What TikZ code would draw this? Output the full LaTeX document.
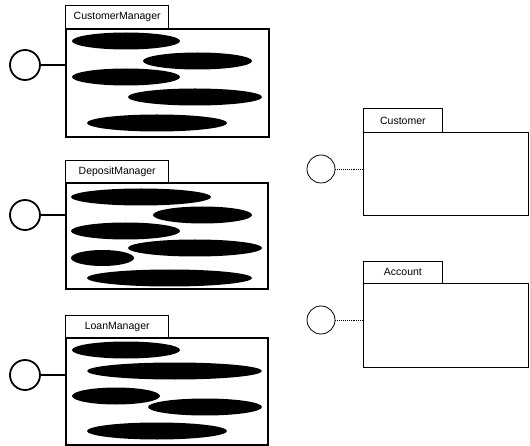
\documentclass[tikz,border=0pt]{standalone}
\usepackage{fontspec}
\setmainfont{Liberation Sans}
\usetikzlibrary{shapes.geometric}
\begin{document}
\begin{tikzpicture}[x=1pt,y=-1pt,
  pkgbody/.style={draw, line width=#1, minimum width=0pt, minimum height=0pt, anchor=north west, inner sep=0pt},
  pkgtab/.style={draw, line width=#1, anchor=north west, inner sep=0pt,
    font=\fontsize{10.5}{12}\selectfont},
  usecase/.style={ellipse, fill=black, draw=none, inner sep=0pt, minimum height=17pt},
  ifacebold/.style={circle, draw, line width=1.8pt, minimum size=30pt, inner sep=0pt},
  ifacethin/.style={circle, draw, line width=0.8pt, minimum size=28pt, inner sep=0pt},
  boldlink/.style={line width=1.8pt},
  dotlink/.style={line width=0.9pt, densely dotted}]
\useasboundingbox (0,0) rectangle (530,446);

% --- CustomerManager package ---
\node[pkgtab=1.4pt, minimum width=103pt, minimum height=23pt] (cmtab) at (65,5) {CustomerManager};
\node[pkgbody=1.6pt, minimum width=203pt, minimum height=108pt] (cmbody) at (65,28) {};
\node[usecase, minimum width=108pt] (cm1) at (126,41) {};
\node[usecase, minimum width=109pt] (cm2) at (197.5,61) {};
\node[usecase, minimum width=108pt] (cm3) at (126,77) {};
\node[usecase, minimum width=134pt] (cm4) at (195,97) {};
\node[usecase, minimum width=140pt] (cm5) at (157,123) {};
\node[ifacebold] (cmif) at (25,65) {};
\draw[boldlink] (cmif.east) -- (cmif -| cmbody.west);

% --- DepositManager package ---
\node[pkgtab=1.4pt, minimum width=103pt, minimum height=22pt] (dmtab) at (65,160) {DepositManager};
\node[pkgbody=1.6pt, minimum width=202pt, minimum height=106pt] (dmbody) at (65,182) {};
\node[usecase, minimum width=140pt] (dm1) at (141,197) {};
\node[usecase, minimum width=99pt] (dm2) at (202.5,215) {};
\node[usecase, minimum width=109pt] (dm3) at (125.5,231) {};
\node[usecase, minimum width=134pt] (dm4) at (195,248) {};
\node[usecase, minimum width=63pt, minimum height=16pt] (dm5) at (102.5,258) {};
\node[usecase, minimum width=165pt] (dm6) at (169.5,278) {};
\node[ifacebold] (dmif) at (25,215) {};
\draw[boldlink] (dmif.east) -- (dmif -| dmbody.west);

% --- LoanManager package ---
\node[pkgtab=1.4pt, minimum width=103pt, minimum height=22pt] (lmtab) at (65,315) {LoanManager};
\node[pkgbody=1.6pt, minimum width=202pt, minimum height=107pt] (lmbody) at (65,337) {};
\node[usecase, minimum width=108pt] (lm1) at (126,350) {};
\node[usecase, minimum width=175pt] (lm2) at (174.5,371) {};
\node[usecase, minimum width=88pt] (lm3) at (116,396) {};
\node[usecase, minimum width=114pt] (lm4) at (205,407) {};
\node[usecase, minimum width=140pt] (lm5) at (157,431) {};
\node[ifacebold] (lmif) at (25,375) {};
\draw[boldlink] (lmif.east) -- (lmif -| lmbody.west);

% --- Customer package ---
\node[pkgtab=0.8pt, minimum width=79pt, minimum height=24pt] (cutab) at (363,108) {Customer};
\node[pkgbody=0.9pt, minimum width=165pt, minimum height=83pt] (cubody) at (363,132) {};
\node[ifacethin] (cuif) at (321,169) {};
\draw[dotlink] (cuif.east) -- (cuif -| cubody.west);

% --- Account package ---
\node[pkgtab=0.8pt, minimum width=79pt, minimum height=22pt] (actab) at (363,261) {Account};
\node[pkgbody=0.9pt, minimum width=165pt, minimum height=84pt] (acbody) at (363,283) {};
\node[ifacethin] (acif) at (321,320) {};
\draw[dotlink] (acif.east) -- (acif -| acbody.west);
\end{tikzpicture}
\end{document}
